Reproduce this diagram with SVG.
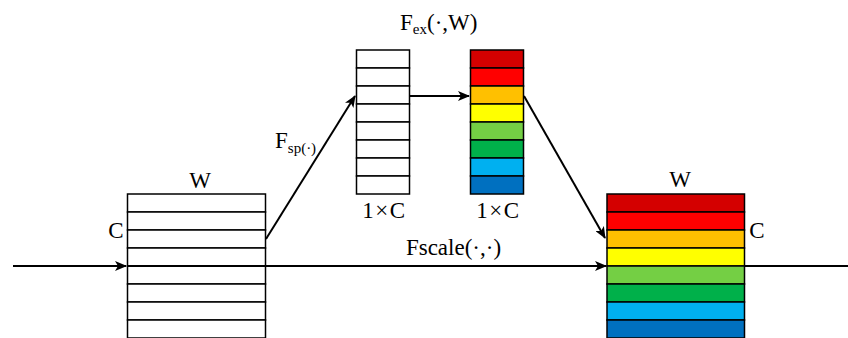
<svg xmlns="http://www.w3.org/2000/svg" width="848" height="338" viewBox="0 0 848 338">
<style>
.cell{stroke:#000;stroke-width:1.5}
.w{fill:#fff}
.t{font-family:"Liberation Serif","Times New Roman",serif;font-size:23px;fill:#000}
.s{font-size:15px}
.c{stroke:#000;stroke-width:2;fill:none}
.c1{fill:#D40000}.c2{fill:#FF0000}.c3{fill:#FFC000}.c4{fill:#FFFF00}
.c5{fill:#74CF44}.c6{fill:#00B04A}.c7{fill:#00B0F0}.c8{fill:#0070C0}
</style>
<defs>
<marker id="ah" viewBox="0 0 12 10" refX="11" refY="5" markerWidth="12" markerHeight="10" markerUnits="userSpaceOnUse" orient="auto">
<path d="M0,0 L12,5 L0,10 L3,5 Z" fill="#000"/>
</marker>
</defs>
<rect width="848" height="338" fill="#fff"/>

<g id="input-block">
<rect class="cell w" x="127.5" y="194" width="138" height="18"/>
<rect class="cell w" x="127.5" y="212" width="138" height="18"/>
<rect class="cell w" x="127.5" y="230" width="138" height="18"/>
<rect class="cell w" x="127.5" y="248" width="138" height="18"/>
<rect class="cell w" x="127.5" y="266" width="138" height="18"/>
<rect class="cell w" x="127.5" y="284" width="138" height="18"/>
<rect class="cell w" x="127.5" y="302" width="138" height="18"/>
<rect class="cell w" x="127.5" y="320" width="138" height="18"/>
<text class="t" x="200" y="188" text-anchor="middle">W</text>
<text class="t" x="116" y="238" text-anchor="middle">C</text>
</g>

<g id="squeeze-vector">
<rect class="cell w" x="356.5" y="50" width="53" height="18"/>
<rect class="cell w" x="356.5" y="68" width="53" height="18"/>
<rect class="cell w" x="356.5" y="86" width="53" height="18"/>
<rect class="cell w" x="356.5" y="104" width="53" height="18"/>
<rect class="cell w" x="356.5" y="122" width="53" height="18"/>
<rect class="cell w" x="356.5" y="140" width="53" height="18"/>
<rect class="cell w" x="356.5" y="158" width="53" height="18"/>
<rect class="cell w" x="356.5" y="176" width="53" height="18"/>
<text class="t" x="384.5" y="218" text-anchor="middle" letter-spacing="1.5">1×C</text>
</g>

<g id="excite-vector">
<rect class="cell c1" x="470.5" y="50" width="53" height="18"/>
<rect class="cell c2" x="470.5" y="68" width="53" height="18"/>
<rect class="cell c3" x="470.5" y="86" width="53" height="18"/>
<rect class="cell c4" x="470.5" y="104" width="53" height="18"/>
<rect class="cell c5" x="470.5" y="122" width="53" height="18"/>
<rect class="cell c6" x="470.5" y="140" width="53" height="18"/>
<rect class="cell c7" x="470.5" y="158" width="53" height="18"/>
<rect class="cell c8" x="470.5" y="176" width="53" height="18"/>
<text class="t" x="498.5" y="218" text-anchor="middle" letter-spacing="1.5">1×C</text>
</g>

<g id="output-block">
<rect class="cell c1" x="607" y="194" width="137.5" height="18"/>
<rect class="cell c2" x="607" y="212" width="137.5" height="18"/>
<rect class="cell c3" x="607" y="230" width="137.5" height="18"/>
<rect class="cell c4" x="607" y="248" width="137.5" height="18"/>
<rect class="cell c5" x="607" y="266" width="137.5" height="18"/>
<rect class="cell c6" x="607" y="284" width="137.5" height="18"/>
<rect class="cell c7" x="607" y="302" width="137.5" height="18"/>
<rect class="cell c8" x="607" y="320" width="137.5" height="18"/>
<text class="t" x="680" y="187" text-anchor="middle">W</text>
<text class="t" x="757" y="238" text-anchor="middle">C</text>
</g>

<g id="connectors">
<line class="c" x1="13" y1="266" x2="126" y2="266" marker-end="url(#ah)"/>
<line class="c" x1="128" y1="266" x2="606" y2="266" marker-end="url(#ah)"/>
<line class="c" x1="745" y1="266" x2="848" y2="266"/>
<line class="c" x1="266" y1="239" x2="355" y2="96" marker-end="url(#ah)"/>
<line class="c" x1="410" y1="96" x2="469" y2="96" marker-end="url(#ah)"/>
<line class="c" x1="524" y1="96" x2="605" y2="238" marker-end="url(#ah)"/>
</g>

<g id="labels">
<text class="t" x="400" y="30">F<tspan class="s" dy="4">ex</tspan><tspan dy="-4">(·,W)</tspan></text>
<text class="t" x="275" y="148">F<tspan class="s" dy="5">sp(·)</tspan></text>
<text class="t" x="453.5" y="255" text-anchor="middle" font-size="25">Fscale(·,·)</text>
</g>
</svg>
